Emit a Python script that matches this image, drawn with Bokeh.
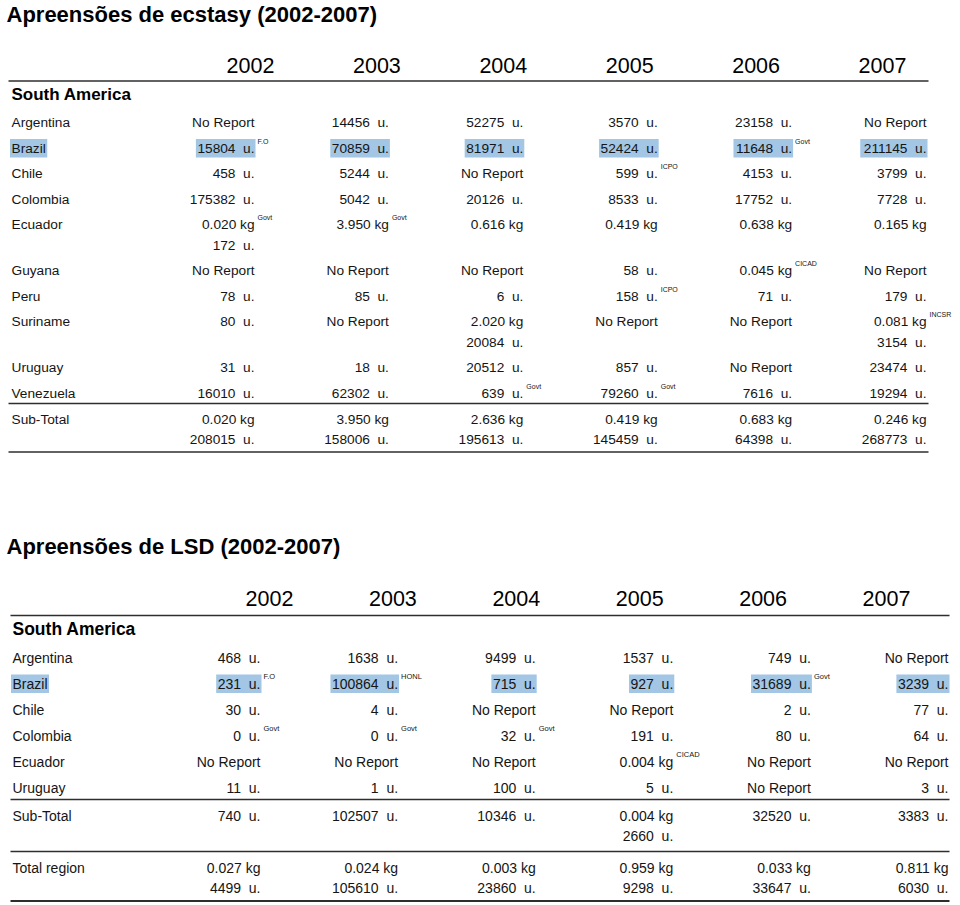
from bokeh.plotting import figure
from bokeh.models import ColumnDataSource, Range1d
from bokeh.core.properties import value
from bokeh.embed import file_html
from bokeh.resources import INLINE

# ---------------- data ----------------
years = ["2002", "2003", "2004", "2005", "2006", "2007"]
region_label = "South America"

ecstasy_title = "Apreensões de ecstasy (2002-2007)"
ecstasy_countries = ["Argentina", "Brazil", "Chile", "Colombia", "Ecuador",
                     "Guyana", "Peru", "Suriname", "Uruguay", "Venezuela"]
ecstasy_argentina = ["No Report", "14456 u.", "52275 u.", "3570 u.", "23158 u.", "No Report"]
ecstasy_brazil = ["15804 u.", "70859 u.", "81971 u.", "52424 u.", "11648 u.", "211145 u."]
ecstasy_chile = ["458 u.", "5244 u.", "No Report", "599 u.", "4153 u.", "3799 u."]
ecstasy_colombia = ["175382 u.", "5042 u.", "20126 u.", "8533 u.", "17752 u.", "7728 u."]
ecstasy_ecuador = ["0.020 kg\n172 u.", "3.950 kg", "0.616 kg", "0.419 kg", "0.638 kg", "0.165 kg"]
ecstasy_guyana = ["No Report", "No Report", "No Report", "58 u.", "0.045 kg", "No Report"]
ecstasy_peru = ["78 u.", "85 u.", "6 u.", "158 u.", "71 u.", "179 u."]
ecstasy_suriname = ["80 u.", "No Report", "2.020 kg\n20084 u.", "No Report", "No Report", "0.081 kg\n3154 u."]
ecstasy_uruguay = ["31 u.", "18 u.", "20512 u.", "857 u.", "No Report", "23474 u."]
ecstasy_venezuela = ["16010 u.", "62302 u.", "639 u.", "79260 u.", "7616 u.", "19294 u."]
ecstasy_subtotal = ["0.020 kg\n208015 u.", "3.950 kg\n158006 u.", "2.636 kg\n195613 u.",
                    "0.419 kg\n145459 u.", "0.683 kg\n64398 u.", "0.246 kg\n268773 u."]
ecstasy_notes = {("Brazil", "2002"): "F.O", ("Brazil", "2006"): "Govt",
                 ("Chile", "2005"): "ICPO", ("Ecuador", "2002"): "Govt",
                 ("Ecuador", "2003"): "Govt", ("Guyana", "2006"): "CICAD",
                 ("Peru", "2005"): "ICPO", ("Suriname", "2007"): "INCSR",
                 ("Venezuela", "2004"): "Govt", ("Venezuela", "2005"): "Govt"}

lsd_title = "Apreensões de LSD (2002-2007)"
lsd_countries = ["Argentina", "Brazil", "Chile", "Colombia", "Ecuador", "Uruguay"]
lsd_argentina = ["468 u.", "1638 u.", "9499 u.", "1537 u.", "749 u.", "No Report"]
lsd_brazil = ["231 u.", "100864 u.", "715 u.", "927 u.", "31689 u.", "3239 u."]
lsd_chile = ["30 u.", "4 u.", "No Report", "No Report", "2 u.", "77 u."]
lsd_colombia = ["0 u.", "0 u.", "32 u.", "191 u.", "80 u.", "64 u."]
lsd_ecuador = ["No Report", "No Report", "No Report", "0.004 kg", "No Report", "No Report"]
lsd_uruguay = ["11 u.", "1 u.", "100 u.", "5 u.", "No Report", "3 u."]
lsd_subtotal = ["740 u.", "102507 u.", "10346 u.", "0.004 kg\n2660 u.", "32520 u.", "3383 u."]
lsd_total = ["0.027 kg\n4499 u.", "0.024 kg\n105610 u.", "0.003 kg\n23860 u.",
             "0.959 kg\n9298 u.", "0.033 kg\n33647 u.", "0.811 kg\n6030 u."]
lsd_notes = {("Brazil", "2002"): "F.O", ("Brazil", "2003"): "HONL",
             ("Brazil", "2006"): "Govt", ("Colombia", "2002"): "Govt",
             ("Colombia", "2003"): "Govt", ("Colombia", "2004"): "Govt",
             ("Ecuador", "2005"): "CICAD"}
highlight_country = "Brazil"

# ---------------- drawing ----------------
FONT = "Liberation Sans"
TEXT_COLOR = "#151515"
LINE_COLOR = "#2e2e2e"
HL_COLOR = "#a2c6e4"

ARIAL_W = {c: 0.556 for c in "0123456789"}
ARIAL_W.update({" ": 0.278, "\u00a0": 0.278, ".": 0.278, "u": 0.556, "k": 0.5, "g": 0.556,
                "B": 0.667, "r": 0.333, "a": 0.556, "z": 0.5, "i": 0.222, "l": 0.222})


def text_width(s, size):
    return sum(ARIAL_W.get(c, 0.556) for c in s) * size


def disp(s):
    return s.replace(" u.", "\u00a0\u00a0u.")


W, H = 958, 904
p = figure(width=W, height=H, x_range=Range1d(0, W), y_range=Range1d(H, 0),
           output_backend="svg", toolbar_location=None, min_border=0,
           x_axis_location=None, y_axis_location=None, outline_line_color=None)
p.grid.visible = False
p.background_fill_color = "white"


def draw_table(title, countries, rows, summaries, notes, L):
    body = dict(x=[], y=[], text=[], align=[])
    sup = dict(x=[], y=[], text=[])
    hl = dict(left=[], right=[], top=[], bottom=[])
    segs = dict(x0=[], y0=[], x1=[], y1=[], w=[])
    fs = L["fs"]

    # title / headers
    p.text(x=[L["title_x"]], y=[L["title_y"]], text=[title], text_font=value(FONT),
           text_font_style="bold", text_font_size=value("22px"), text_align="left",
           text_baseline="middle", text_color="black")
    yx = [L["year_x0"] + i * L["year_pitch"] for i in range(len(years))]
    p.text(x=yx, y=[L["year_y"]] * len(years), text=years, text_font=value(FONT),
           text_font_size=value("21.5px"), text_align="center", text_baseline="middle",
           text_color="black")
    segs["x0"].append(L["lx0"]); segs["x1"].append(L["lx1"])
    segs["y0"].append(L["hline"]); segs["y1"].append(L["hline"]); segs["w"].append(1.6)
    p.text(x=[L["label_x"]], y=[L["region_y"]], text=[region_label], text_font=value(FONT),
           text_font_style="bold", text_font_size=value(L["rfs"]), text_align="left",
           text_baseline="middle", text_color="black")

    def add_row(label, cells, y, country=None):
        body["x"].append(L["label_x"]); body["y"].append(y)
        body["text"].append(label); body["align"].append("left")
        if country == highlight_country:
            w = text_width(label, fs)
            hl["left"].append(L["label_x"] - 1.5); hl["right"].append(L["label_x"] + w + 1.5)
            hl["top"].append(y - 9); hl["bottom"].append(y + 9.5)
        nlines = 1
        for j, cell in enumerate(cells):
            xr = L["val_x0"] + j * L["val_pitch"]
            lines = cell.split("\n")
            nlines = max(nlines, len(lines))
            for k, ln in enumerate(lines):
                t = disp(ln)
                yy = y + k * L["l2"]
                body["x"].append(xr); body["y"].append(yy)
                body["text"].append(t); body["align"].append("right")
                if country == highlight_country:
                    w = text_width(t, fs)
                    hl["left"].append(xr - w - 1.5); hl["right"].append(xr + 1)
                    hl["top"].append(yy - 9); hl["bottom"].append(yy + 9.5)
            if country is not None and (country, years[j]) in notes:
                sup["x"].append(xr + 3); sup["y"].append(y - 7)
                sup["text"].append(notes[(country, years[j])])
        return nlines

    y = L["row0"]
    last = y
    for c, cells in zip(countries, rows):
        n = add_row(c, cells, y, c)
        last = y + (n - 1) * L["l2"]
        y = last + L["pitch"]
    ly = last + L["gap_line"]
    for si, (label, cells) in enumerate(summaries):
        segs["x0"].append(L["lx0"]); segs["x1"].append(L["lx1"])
        segs["y0"].append(ly); segs["y1"].append(ly); segs["w"].append(1.5)
        y = ly + L["gap_after"]
        n = add_row(label, cells, y)
        last = y + (n - 1) * L["l2"]
        ly = last + L["gap_end"][si]
    segs["x0"].append(L["lx0"]); segs["x1"].append(L["lx1"])
    segs["y0"].append(ly); segs["y1"].append(ly); segs["w"].append(L["end_w"])

    p.quad(source=ColumnDataSource(hl), left="left", right="right", top="top",
           bottom="bottom", fill_color=HL_COLOR, line_color=None)
    p.segment(source=ColumnDataSource(segs), x0="x0", y0="y0", x1="x1", y1="y1",
              line_color=LINE_COLOR, line_width="w")
    p.text(source=ColumnDataSource(body), x="x", y="y", text="text", text_align="align",
           text_font=value(FONT), text_font_size=value(f"{fs}px"), text_baseline="middle",
           text_color=TEXT_COLOR)
    p.text(source=ColumnDataSource(sup), x="x", y="y", text="text", text_align="left",
           text_font=value(FONT), text_font_size=value(L["sfs"]), text_baseline="middle",
           text_color=TEXT_COLOR)


L1 = dict(fs=13.7, rfs="17px", sfs="7px", title_x=6, title_y=13.5, year_y=64.5,
          year_x0=250, year_pitch=126.4, val_x0=254, val_pitch=134.4,
          lx0=8, lx1=928, hline=80.5, label_x=11, region_y=94,
          row0=122, pitch=25.5, l2=20.5, gap_line=10.5, gap_after=15.5,
          gap_end=[12.5], end_w=1.6)
L2 = dict(fs=14, rfs="17.5px", sfs="7.5px", title_x=6, title_y=545.5, year_y=597.5,
          year_x0=269, year_pitch=123.4, val_x0=260, val_pitch=137.6,
          lx0=10, lx1=949, hline=615, label_x=12, region_y=628,
          row0=657, pitch=26, l2=20, gap_line=12, gap_after=16.5,
          gap_end=[15.5, 13], end_w=2.2)

draw_table(ecstasy_title, ecstasy_countries,
           [ecstasy_argentina, ecstasy_brazil, ecstasy_chile, ecstasy_colombia, ecstasy_ecuador,
            ecstasy_guyana, ecstasy_peru, ecstasy_suriname, ecstasy_uruguay, ecstasy_venezuela],
           [("Sub-Total", ecstasy_subtotal)], ecstasy_notes, L1)
draw_table(lsd_title, lsd_countries,
           [lsd_argentina, lsd_brazil, lsd_chile, lsd_colombia, lsd_ecuador, lsd_uruguay],
           [("Sub-Total", lsd_subtotal), ("Total region", lsd_total)], lsd_notes, L2)

open("out.html", "w").write(file_html(p, INLINE))
